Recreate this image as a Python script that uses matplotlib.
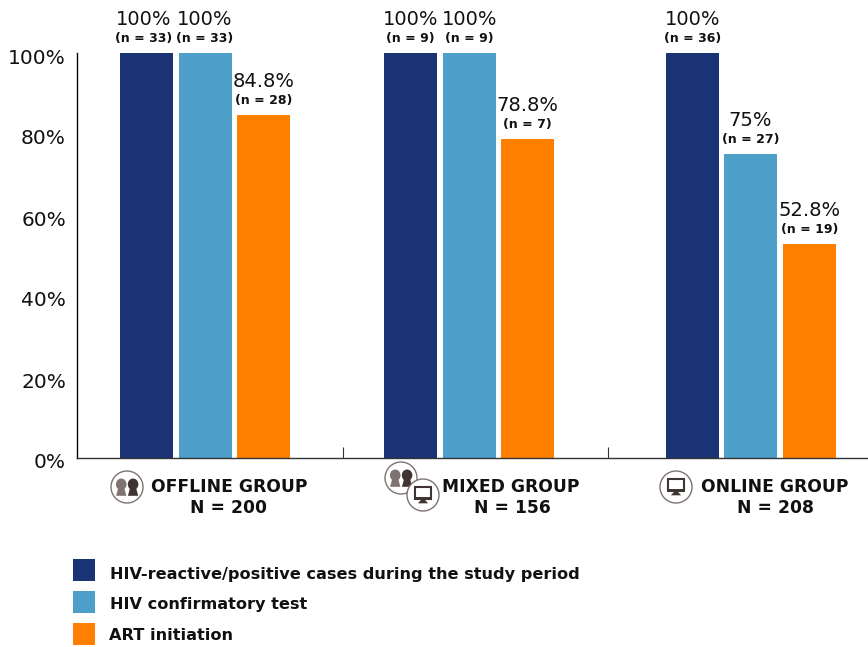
import numpy as np
import matplotlib
matplotlib.use('Agg')
import matplotlib.pyplot as plt
from matplotlib.patches import Circle, Ellipse, Rectangle, Polygon
from matplotlib.transforms import ScaledTranslation

W, H = 868, 647

groups = ['OFFLINE GROUP', 'MIXED GROUP', 'ONLINE GROUP']
group_n = ['N = 200', 'N = 156', 'N = 208']
series = ['HIV-reactive/positive cases during the study period',
          'HIV confirmatory test', 'ART initiation']
colors = ['#1a3375', '#4f9fcb', '#ff8000']

reactive = [100, 100, 100]
confirm = [100, 100, 75]
art = [84.8, 78.8, 52.8]
reactive_labels = ['100%', '100%', '100%']
confirm_labels = ['100%', '100%', '75%']
art_labels = ['84.8%', '78.8%', '52.8%']
reactive_n = [33, 9, 36]
confirm_n = [33, 9, 27]
art_n = [28, 7, 19]

yticks = [0, 20, 40, 60, 80, 100]
ytick_labels = ['0%', '20%', '40%', '60%', '80%', '100%']

# left edges of the bars in pixels
bar_left = [[120, 384, 666], [179, 443, 724], [237, 501, 783]]
bar_w = 53
label_dx = [[-3, 0, 0], [-1, 0, 0], [0, 0, 0]]

fig = plt.figure(figsize=(W / 100, H / 100), dpi=100)
ax = fig.add_axes([77 / W, 1 - 458 / H, (W - 77) / W, 405 / H])
ax.set_xlim(77, W)
ax.set_ylim(0, 100)

all_vals = [reactive, confirm, art]
all_text = [reactive_labels, confirm_labels, art_labels]
all_n = [reactive_n, confirm_n, art_n]
for s in range(3):
    ax.bar(bar_left[s], all_vals[s], width=bar_w, align='edge', color=colors[s])
    for i in range(3):
        cx = bar_left[s][i] + bar_w / 2
        ax.annotate(all_text[s][i], (cx, all_vals[s][i]), xytext=(label_dx[s][i], 24),
                    textcoords='offset pixels', ha='center', va='bottom',
                    fontsize=14, color='#111111', annotation_clip=False)
        ax.annotate('(n = %d)' % all_n[s][i], (cx, all_vals[s][i]), xytext=(label_dx[s][i], 8),
                    textcoords='offset pixels', ha='center', va='bottom',
                    fontsize=9, fontweight='bold', color='#111111',
                    annotation_clip=False)

ax.spines['top'].set_visible(False)
ax.spines['right'].set_visible(False)
ax.spines['left'].set_linewidth(1.0)
ax.spines['bottom'].set_linewidth(1.0)
ax.spines['bottom'].set_color('#333333')
ax.set_xticks([343, 608])
ax.set_xticklabels([])
ax.tick_params(axis='x', direction='in', length=8, width=0.8, color='#333333')
ax.set_yticks(yticks)
ax.set_yticklabels(ytick_labels, fontsize=14.5, color='#111111')
ax.tick_params(axis='y', length=0, pad=8)
shift = ScaledTranslation(0, -3 / 100, fig.dpi_scale_trans)
for lab in ax.get_yticklabels():
    lab.set_transform(lab.get_transform() + shift)

# overlay in pixel coordinates for the group captions, icons and legend
over = fig.add_axes([0, 0, 1, 1], facecolor='none')
over.set_xlim(0, W)
over.set_ylim(H, 0)
over.axis('off')


def heads(cx, cy, r):
    for dx, col in [(-0.36, '#7d7370'), (0.38, '#3d3433')]:
        hx = cx + dx * r
        over.add_patch(Ellipse((hx, cy - 0.17 * r), 0.66 * r, 0.72 * r, color=col, lw=0))
        over.add_patch(Polygon([(hx - 0.32 * r, cy + 0.55 * r), (hx + 0.32 * r, cy + 0.55 * r),
                                (hx + 0.2 * r, cy + 0.1 * r), (hx - 0.2 * r, cy + 0.1 * r)],
                               color=col, lw=0))


def screen(cx, cy, r):
    col = '#3d3433'
    over.add_patch(Rectangle((cx - 0.52 * r, cy - 0.5 * r), 1.04 * r, 0.78 * r,
                             facecolor='white', edgecolor=col, lw=1.5))
    over.add_patch(Rectangle((cx - 0.52 * r, cy + 0.14 * r), 1.04 * r, 0.16 * r, color=col, lw=0))
    over.add_patch(Polygon([(cx - 0.1 * r, cy + 0.28 * r), (cx + 0.1 * r, cy + 0.28 * r),
                            (cx + 0.32 * r, cy + 0.52 * r), (cx - 0.32 * r, cy + 0.52 * r)],
                           color=col, lw=0))


def ring(cx, cy, r):
    over.add_patch(Circle((cx, cy), r, facecolor='white', edgecolor='#7d7370', lw=1.0))


ring(127, 487, 16)
heads(127, 487, 16)
ring(401, 478, 16)
heads(401, 478, 16)
ring(423, 495, 16)
screen(423, 495, 16)
ring(676, 487, 16)
screen(676, 487, 16)

caption_x = [229, 511, 775]
caption_n_x = [229, 512, 775]
for i in range(3):
    over.text(caption_x[i], 487, groups[i], ha='center', va='center',
              fontsize=12.3, fontweight='bold', color='#111111')
    over.text(caption_n_x[i], 508, group_n[i], ha='center', va='center',
              fontsize=12.3, fontweight='bold', color='#111111')

legend_y = [570, 602, 634]
legend_text_y = [574, 604, 636]
legend_x = [110, 110, 109]
for i in range(3):
    over.add_patch(Rectangle((73, legend_y[i] - 11), 22, 22, color=colors[i], lw=0))
    over.text(legend_x[i], legend_text_y[i], series[i], ha='left', va='center',
              fontsize=11.6, fontweight='bold', color='#111111')

fig.savefig('out.png', dpi=100)
